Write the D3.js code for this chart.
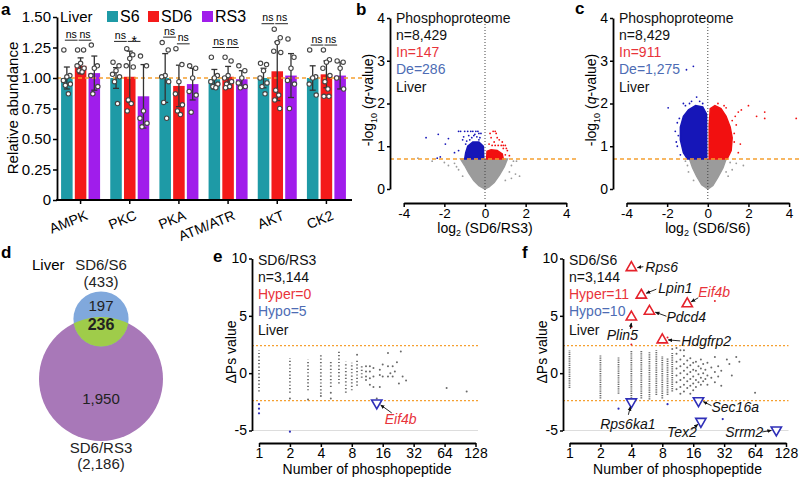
<!DOCTYPE html>
<html><head><meta charset="utf-8">
<script src="https://cdn.jsdelivr.net/npm/d3@7"></script>
<style>body{margin:0;background:#fff} svg{display:block} text{font-family:Arial,"Liberation Sans",sans-serif}</style>
</head><body><svg id="c" width="800" height="478"></svg>
<script>
// ================= DATA =================
// Panel a
const kinases = ["AMPK","PKC","PKA","ATM/ATR","AKT","CK2"];
const groups = ["S6","SD6","RS3"];
const meanS6  = [1.00,1.00,1.00,0.99,1.00,1.00];
const meanSD6 = [1.10,1.01,0.935,1.01,1.055,1.03];
const meanRS3 = [1.04,0.85,0.95,0.99,1.02,1.02];
const sdS6  = [0.09,0.085,0.20,0.08,0.08,0.10];
const sdSD6 = [0.065,0.21,0.17,0.085,0.24,0.11];
const sdRS3 = [0.14,0.26,0.13,0.07,0.18,0.11];
const ptsS6 = [
  [1.23,1.02,1.01,0.98,0.95,0.94,0.87],
  [1.13,1.10,1.06,1.03,1.01,0.97,0.79],
  [1.29,1.23,1.02,1.01,0.97,0.80,0.67],
  [1.17,1.02,1.00,0.97,0.95,0.93,0.92],
  [1.12,1.11,1.06,1.00,0.96,0.93,0.87],
  [1.23,1.01,1.00,0.95,0.86]];
const ptsSD6 = [
  [1.23,1.23,1.12,1.10,1.08,1.06,1.05],
  [1.24,1.19,1.16,1.10,1.09,0.82,0.79,0.73],
  [1.24,1.11,0.97,0.87,0.78,0.73,0.70],
  [1.17,1.14,1.02,1.00,0.97,0.95,0.93,0.92],
  [1.40,1.33,1.29,1.22,1.21,0.90,0.86,0.82,0.75],
  [1.23,1.15,1.13,1.08,1.02,0.97,0.91,0.85,0.85]];
const ptsRS3 = [
  [1.27,1.10,1.08,1.02,0.93,0.87],
  [1.18,1.10,0.73,0.67,0.63,0.60],
  [1.10,1.08,1.00,0.89,0.86,0.72],
  [1.10,1.06,1.00,0.96,0.93,0.92],
  [1.32,1.17,1.08,0.98,0.95,0.75],
  [1.14,1.13,1.08,1.00,0.91]];
const sigS6vsSD6  = ["ns","ns","ns","ns","ns","ns"];
const sigSD6vsRS3 = ["ns","*","ns","ns","ns","ns"];
const sigLevel1 = [1.31,1.30,1.335,1.25,1.445,1.27];
const sigLevel2 = [1.31,1.30,1.28,1.25,1.445,1.27];
const yTicksA = [0,0.25,0.5,0.75,1,1.25,1.5];

// Panels b & c (volcano); dense regions as outlines + scattered points  [log2 FC, -log10 q]
const qThreshold = 0.699;
const bGreyArea = [[0,0],[-0.3,0.08],[-0.55,0.2],[-0.8,0.38],[-1.0,0.55],[-1.2,0.7],[1.1,0.7],[0.95,0.52],[0.7,0.32],[0.45,0.15],[0.2,0.05]];
const bBlueArea = [[-0.06,0.7],[-1.0,0.7],[-0.95,0.85],[-0.85,1.0],[-0.6,1.1],[-0.3,1.1],[-0.08,1.0]];
const bRedArea  = [[0.08,0.7],[0.9,0.7],[0.85,0.82],[0.6,0.9],[0.3,0.92],[0.1,0.88]];
const bGreyPts = [[-1.5,0.6],[-1.8,0.55],[-2.0,0.62],[-1.3,0.45],[1.3,0.55],[1.5,0.35],[1.7,0.3],[1.2,0.4],[1.55,0.65],[-3.3,0.72],[-2.6,0.65],[-1.1,0.3],[1.0,0.2],[1.4,0.65],[-1.4,0.52],[1.3,0.25]];
const bBluePts = [[-2.9,1.2],[-2.3,1.28],[-1.95,1.05],[-1.8,1.18],[-2.35,0.72],[-2.2,0.75],[-1.3,1.35],[-1.2,1.35],[-1.0,1.35],[-0.85,1.35],[-0.7,1.35],[-0.6,1.35],[-0.45,1.35],[-0.35,1.35],[-0.3,1.3],[-0.5,1.28],[-0.8,1.25],[-0.25,1.2],[-1.1,1.15],[-0.95,1.05],[-1.3,0.9],[-0.55,1.25],[-0.65,1.2],[-0.4,1.22],[-0.3,1.15],[-0.75,1.15],[-1.5,0.85],[-1.05,1.22],[-0.2,1.3],[-0.9,1.12]];
const bRedPts = [[0.4,1.35],[0.5,1.35],[0.55,1.3],[0.3,1.2],[0.6,1.2],[0.7,1.15],[0.45,1.1],[0.2,1.05],[0.35,1.02],[0.5,1.02],[0.65,1.02],[0.8,1.02],[0.9,1.02],[1.0,1.02],[0.9,0.95],[1.1,0.9],[1.0,0.8],[1.2,0.78],[0.85,1.1],[1.05,0.95],[0.25,1.3]];
const cGreyArea = [[0,0],[-0.3,0.1],[-0.55,0.3],[-0.75,0.5],[-0.9,0.7],[0.9,0.7],[0.75,0.5],[0.5,0.28],[0.25,0.08]];
const cBlueArea = [[-0.05,0.7],[-1.0,0.7],[-1.2,0.85],[-1.35,1.15],[-1.35,1.45],[-1.2,1.7],[-0.95,1.85],[-0.6,1.95],[-0.25,1.92],[-0.06,1.75]];
const cRedArea  = [[0.07,0.7],[0.95,0.7],[1.15,0.9],[1.2,1.2],[1.1,1.45],[0.9,1.7],[0.65,1.88],[0.35,1.95],[0.12,1.88],[0.07,1.5]];
const cGreyPts = [[1.4,0.6],[1.75,0.55],[1.2,0.45],[-1.0,0.55],[-1.1,0.65],[1.0,0.3],[-0.7,0.2],[1.1,0.62],[-0.95,0.4],[0.9,0.4]];
const cBluePts = [[-1.95,1.9],[-1.4,1.65],[-1.5,1.55],[-1.55,1.1],[-1.5,1.0],[-1.35,0.8],[-1.1,1.95],[-0.8,2.05],[-0.55,2.15],[-0.4,2.05],[-0.25,2.0],[-1.05,2.79],[-0.71,2.87],[-1.6,1.35],[-1.2,2.0],[-1.45,1.25],[-0.9,2.0]];
const cRedPts = [[1.5,1.8],[1.65,1.85],[2.0,1.95],[2.4,1.7],[2.8,1.8],[2.8,1.65],[4.35,1.65],[1.4,1.5],[1.3,1.3],[1.6,1.05],[1.5,0.85],[1.3,1.1],[0.5,2.0],[0.8,1.95],[0.9,1.9],[1.2,1.6],[1.35,1.7]];

// Panel d (Venn)
const vennSets = ["SD6/S6","SD6/RS3"];
const vennTotals = [433, 2186];
const vennOnly = [197, 1950];
const vennShared = 236;

// Panels e & f  [number of phosphopeptides, ΔPs]
const psThreshold = 2.4;
const eColumns = [[1,-1.6,2.0],[2,-1.7,1.3],[3,-1.5,1.2],[4,-1.8,1.6],[5,-1.2,1.1],[6,-0.9,2.0],[7,-1.7,1.0],[8,-1.5,0.9],[9,-1.1,1.1],[10,-0.4,0.6]];
const eGreyPts = [[2,-2.2],[3,-2.3],[4,-2.0],[5,-2.2],[5,-1.7],[9,1.6],[11,0.6],[11,0.15],[11,-0.3],[11,-0.6],[12,0.6],[12,0.15],[12,-0.45],[12,-1.0],[13,0.45],[13,-0.3],[13,-1.2],[14,-2.2],[15,0.3],[15,-0.15],[15,-1.2],[16,0.75],[16,-0.3],[18,0.6],[18,-0.3],[18,1.75],[19,0.0],[20,0.6],[20,-0.3],[21,0.15],[22,0.95],[23,-0.9],[24,1.9],[25,-0.3],[27,-0.65],[67,-1.3],[105,-1.6]];
const eBluePts = [[1,-2.7],[1,-3.1],[1,-3.5],[2,-5.1]];
const eRedPts = [];
const eHits = [{gene:"Eif4b", n:14, v:-2.6, dir:"down"}];
const fColumns = [[1,-1.3,2.0],[2,-2.2,1.6],[3,-1.8,1.4],[4,-2.2,2.0],[5,-2.2,2.0],[6,-2.3,1.9],[7,-1.9,2.0],[8,-2.2,1.5],[9,-1.9,1.3],[10,-1.6,1.8]];
const fGreyPts = [[10,2.1],[11,2.2],[13,2.0],[11,1.7],[11,1.0],[11,0.4],[11,-0.2],[11,-0.8],[11,-1.4],[12,2.0],[12,1.2],[12,0.6],[12,0.0],[12,-0.6],[12,-1.2],[12,-1.8],[13,1.5],[13,0.8],[13,0.2],[13,-0.4],[13,-1.0],[13,-1.6],[14,1.1],[14,0.5],[14,-0.1],[14,-0.7],[14,-1.3],[15,1.3],[15,0.7],[15,0.1],[15,-0.5],[15,-1.1],[15,-1.8],[16,0.9],[16,0.3],[16,-0.3],[16,-0.9],[16,-1.5],[17,1.0],[17,0.2],[17,-0.6],[17,-1.2],[18,0.6],[18,-0.1],[18,-0.8],[19,1.2],[19,0.4],[19,-0.4],[19,-1.0],[20,0.8],[20,0.0],[20,-0.7],[21,0.3],[21,-0.5],[22,0.9],[22,-0.2],[22,-1.0],[24,0.5],[24,-0.4],[26,1.4],[26,0.1],[26,-0.8],[28,0.6],[28,-0.3],[30,0.2],[30,-1.1],[34,1.2],[36,0.8],[38,-0.2],[42,1.4],[45,1.0],[64,-1.7]];
const fRedPts = [[4,4.0],[4,3.0],[4,2.5],[9,3.1],[26,6.3]];
const fBluePts = [[3,-3.1],[9,-2.7],[31,-4.0]];
const fHits = [
  {gene:"Rps6", n:4, v:9.2, dir:"up"},
  {gene:"Lpin1", n:5, v:6.8, dir:"up"},
  {gene:"Eif4b", n:14, v:6.05, dir:"up"},
  {gene:"Pdcd4", n:6, v:5.4, dir:"up"},
  {gene:"Plin5", n:4, v:4.9, dir:"up"},
  {gene:"Hdgfrp2", n:8, v:2.9, dir:"up"},
  {gene:"Rps6ka1", n:4, v:-2.5, dir:"down"},
  {gene:"Sec16a", n:18, v:-2.4, dir:"down"},
  {gene:"Tex2", n:19, v:-4.2, dir:"down"},
  {gene:"Srrm2", n:103, v:-4.95, dir:"down"}];
const xTicksPs = [1,2,4,8,16,32,64,128];

// ================= LAYOUT / STYLE =================
const svg = d3.select("#c");
const C = {S6:"#1E9AA6", SD6:"#F41A1A", RS3:"#A01DEB", orange:"#F5A030",
  vRed:"#F21010", vBlue:"#1616B8", vGrey:"#9B9B9B", txtRed:"#E8333A", txtBlue:"#4D6CB4",
  triRed:"#E5222B", triBlue:"#2F2FB8"};
const plain = d => String(d);
function styleAxis(g, fs){
  g.select(".domain").attr("stroke","#000").attr("stroke-width",1.8);
  g.selectAll(".tick line").attr("stroke","#000").attr("stroke-width",1.5);
  g.selectAll(".tick text").attr("font-size",fs).attr("fill","#000")
    .attr("font-family","Arial, 'Liberation Sans', sans-serif");
}
svg.append("defs").append("marker").attr("id","arr").attr("viewBox","0 0 8 8")
  .attr("refX",7).attr("refY",4).attr("markerWidth",5).attr("markerHeight",5).attr("orient","auto")
  .append("path").attr("d","M0,0.5 L8,4 L0,7.5 z").attr("fill","#111");

function panelLabel(t,x,y){ svg.append("text").attr("x",x).attr("y",y).attr("font-size",17).attr("font-weight","bold").text(t); }

// ================= PANEL a =================
(function(){
  const g = svg.append("g");
  const x = d3.scaleBand().domain(kinases).range([56,351]);
  const xi = d3.scaleBand().domain(groups).range([-19.5,19.5]).paddingInner(0.16);
  const y = d3.scaleLinear().domain([0,1.5]).range([200,17]);
  const means = {S6:meanS6, SD6:meanSD6, RS3:meanRS3};
  const sds = {S6:sdS6, SD6:sdSD6, RS3:sdRS3};
  const pts = {S6:ptsS6, SD6:ptsSD6, RS3:ptsRS3};
  const cx = (k,s)=> x(k)+x.bandwidth()/2 + xi(s) + xi.bandwidth()/2;

  kinases.forEach((k,i)=>{
    groups.forEach(s=>{
      g.append("rect").attr("x",cx(k,s)-xi.bandwidth()/2).attr("width",xi.bandwidth())
        .attr("y",y(means[s][i])).attr("height",y(0)-y(means[s][i])).attr("fill",C[s]);
    });
  });
  g.append("line").attr("x1",57).attr("x2",366).attr("y1",y(1)).attr("y2",y(1))
    .attr("stroke",C.orange).attr("stroke-width",1.5).attr("stroke-dasharray","4,3");
  const jit = [-3,3,0,-3.5,3.5,-1.5,1.5,-2.5,2.5];
  kinases.forEach((k,i)=>{
    groups.forEach(s=>{
      const c = cx(k,s), m = means[s][i], sd = sds[s][i];
      g.append("line").attr("x1",c).attr("x2",c).attr("y1",y(m-sd)).attr("y2",y(m+sd)).attr("stroke","#333").attr("stroke-width",1.3);
      [m-sd,m+sd].forEach(v=> g.append("line").attr("x1",c-3).attr("x2",c+3).attr("y1",y(v)).attr("y2",y(v)).attr("stroke","#333").attr("stroke-width",1.3));
      pts[s][i].forEach((v,j)=> g.append("circle").attr("cx",c+jit[j%jit.length]).attr("cy",y(v)).attr("r",2.2)
        .attr("fill","#fff").attr("stroke","#444").attr("stroke-width",1.1));
    });
    // significance
    [[ "S6","SD6",sigS6vsSD6[i],sigLevel1[i]],["SD6","RS3",sigSD6vsRS3[i],sigLevel2[i]]].forEach(([a,b,lab,lv])=>{
      const x1 = cx(k,a)-2, x2 = cx(k,b)-3, yy = y(lv);
      g.append("line").attr("x1",x1).attr("x2",x2).attr("y1",yy).attr("y2",yy).attr("stroke","#222").attr("stroke-width",1);
      g.append("text").attr("x",(x1+x2)/2).attr("y", lab==="*"? yy+5 : yy-2.5).attr("text-anchor","middle")
        .attr("font-size", lab==="*"?14:10.5).text(lab);
    });
  });
  const ya = g.append("g").attr("transform","translate(57,0)")
    .call(d3.axisLeft(y).tickValues(yTicksA).tickSize(4).tickPadding(2).tickSizeOuter(0).tickFormat(d=> d===0?"0":d3.format(".2f")(d)));
  styleAxis(ya,15);
  g.append("line").attr("x1",56).attr("x2",352).attr("y1",200).attr("y2",200).attr("stroke","#000").attr("stroke-width",1.8);
  const xa = g.append("g").attr("transform","translate(0,200)")
    .call(d3.axisBottom(x).tickSize(4).tickSizeOuter(0).tickFormat(""));
  xa.select(".domain").remove();
  styleAxis(xa,14);
  kinases.forEach(k=>{
    const c = x(k)+x.bandwidth()/2;
    g.append("text").attr("text-anchor","end").attr("font-size",14)
      .attr("transform",`translate(${c+8},${219}) rotate(-22)`).text(k);
  });
  g.append("text").attr("transform","translate(18,108) rotate(-90)").attr("text-anchor","middle").attr("font-size",15).text("Relative abundance");
  // legend
  g.append("text").attr("x",60).attr("y",22).attr("font-size",15).text("Liver");
  const lx = {S6:107, SD6:148, RS3:202};
  groups.forEach(s=>{
    g.append("rect").attr("x",lx[s]).attr("y",11).attr("width",11).attr("height",11).attr("fill",C[s]);
    g.append("text").attr("x",lx[s]+13).attr("y",22).attr("font-size",16).text(s);
  });
})();
panelLabel("a",1,15);

// ================= PANELS b, c =================
function volcano(o){
  const g = svg.append("g");
  const x = d3.scaleLinear().domain([-4,4]).range([o.x0, o.x0+162.6]);
  const y = d3.scaleLinear().domain([0,4]).range([189,18]);
  const poly = d3.line().x(d=>x(d[0])).y(d=>y(d[1])).curve(d3.curveLinearClosed);
  g.append("path").attr("d",poly(o.greyArea)).attr("fill",C.vGrey).attr("stroke",C.vGrey).attr("stroke-width",1.5);
  o.greyPts.forEach(d=> g.append("circle").attr("cx",x(d[0])).attr("cy",y(d[1])).attr("r",0.9).attr("fill",C.vGrey));
  g.append("path").attr("d",poly(o.blueArea)).attr("fill",C.vBlue).attr("stroke",C.vBlue).attr("stroke-width",1.5);
  g.append("path").attr("d",poly(o.redArea)).attr("fill",C.vRed).attr("stroke",C.vRed).attr("stroke-width",1.5);
  o.bluePts.forEach(d=> g.append("circle").attr("cx",x(d[0])).attr("cy",y(d[1])).attr("r",0.9).attr("fill",C.vBlue));
  o.redPts.forEach(d=> g.append("circle").attr("cx",x(d[0])).attr("cy",y(d[1])).attr("r",0.9).attr("fill",C.vRed));
  g.append("line").attr("x1",o.yAxisX).attr("x2",o.lineEnd).attr("y1",y(qThreshold)).attr("y2",y(qThreshold))
    .attr("stroke",C.orange).attr("stroke-width",1.5).attr("stroke-dasharray","4,3");
  g.append("line").attr("x1",x(0)).attr("x2",x(0)).attr("y1",18).attr("y2",200)
    .attr("stroke","#444").attr("stroke-width",1).attr("stroke-dasharray","1,2");
  const ya = g.append("g").attr("transform",`translate(${o.yAxisX},0)`)
    .call(d3.axisLeft(y).tickValues([0,1,2,3,4]).tickSize(3).tickPadding(2).tickSizeOuter(0).tickFormat(plain));
  styleAxis(ya,14);
  const xa = g.append("g").attr("transform","translate(0,203)")
    .call(d3.axisBottom(x).tickValues([-4,-2,0,2,4]).tickSize(4).tickPadding(1).tickSizeOuter(0).tickFormat(plain));
  styleAxis(xa,13.5);
  const yl = g.append("text").attr("transform",`translate(${o.yAxisX-17},100) rotate(-90)`).attr("text-anchor","middle").attr("font-size",14);
  yl.append("tspan").text("-log");
  yl.append("tspan").attr("font-size",9).attr("dy",4).text("10");
  yl.append("tspan").attr("dy",-4).text(" (");
  yl.append("tspan").attr("font-style","italic").text("q");
  yl.append("tspan").text("-value)");
  const xl = g.append("text").attr("x",x(0)).attr("y",233).attr("text-anchor","middle").attr("font-size",14);
  xl.append("tspan").text("log");
  xl.append("tspan").attr("font-size",9).attr("dy",3).text("2");
  xl.append("tspan").attr("dy",-3).text(" (" + o.ratio + ")");
  const lines = [["Phosphoproteome","#111"],["n=8,429","#111"],["In="+o.inc,C.txtRed],["De="+o.dec,C.txtBlue],["Liver","#111"]];
  const bl = [23,40,57,74,92];
  lines.forEach((l,i)=> g.append("text").attr("x",o.yAxisX+6).attr("y",bl[i]).attr("font-size",14).attr("fill",l[1]).text(l[0]));
}
volcano({x0:403.7, yAxisX:390, lineEnd:577, ratio:"SD6/RS3", inc:"147", dec:"286",
  greyArea:bGreyArea, blueArea:bBlueArea, redArea:bRedArea, greyPts:bGreyPts, bluePts:bBluePts, redPts:bRedPts});
volcano({x0:626.5, yAxisX:613, lineEnd:800, ratio:"SD6/S6", inc:"911", dec:"1,275",
  greyArea:cGreyArea, blueArea:cBlueArea, redArea:cRedArea, greyPts:cGreyPts, bluePts:cBluePts, redPts:cRedPts});
panelLabel("b",356,15);
panelLabel("c",575,14);

// ================= PANEL d =================
(function(){
  const g = svg.append("g");
  const r = d3.scaleSqrt().domain([0,2186]).range([0,62]);
  const c1 = [101,319], c2 = [101,379];
  const r1 = r(vennTotals[0]), r2 = r(vennTotals[1]);
  g.append("circle").attr("cx",c2[0]).attr("cy",c2[1]).attr("r",r2).attr("fill","#A878B8");
  g.append("circle").attr("cx",c1[0]).attr("cy",c1[1]).attr("r",r1).attr("fill","#80A8DC");
  g.append("clipPath").attr("id","vclip").append("circle").attr("cx",c2[0]).attr("cy",c2[1]).attr("r",r2);
  g.append("circle").attr("cx",c1[0]).attr("cy",c1[1]).attr("r",r1).attr("fill","#9FCC4A").attr("clip-path","url(#vclip)");
  const t = (s,x,y,fs,bold)=> g.append("text").attr("x",x).attr("y",y).attr("text-anchor","middle").attr("font-size",fs).attr("font-weight",bold?"bold":"normal").attr("fill","#222").text(s);
  t(vennSets[0],101,270,15); t("("+vennTotals[0]+")",101,287,15);
  t(String(vennOnly[0]),101,311,15); t(String(vennShared),101,330,16,true);
  t(d3.format(",")(vennOnly[1]),101,404,15);
  t(vennSets[1],101,453,15); t("("+d3.format(",")(vennTotals[1])+")",101,469,15);
  g.append("text").attr("x",32).attr("y",270).attr("font-size",15).text("Liver");
})();
panelLabel("d",1,258);

// ================= PANELS e, f =================
function dps(o){
  const g = svg.append("g");
  const x = d3.scaleLog().base(2).domain([1,128]).range([o.x1, o.x1+216.5]);
  const y = d3.scaleLinear().domain([-5,10]).range([430.5,258.5]);
  const xEnd = o.x1+219;
  g.append("line").attr("x1",o.axisX).attr("x2",xEnd).attr("y1",y(-5)).attr("y2",y(-5)).attr("stroke","#ddd").attr("stroke-width",1);
  [psThreshold,-psThreshold].forEach(v=> g.append("line").attr("x1",o.axisX).attr("x2",xEnd).attr("y1",y(v)).attr("y2",y(v))
    .attr("stroke",C.orange).attr("stroke-width",1.3).attr("stroke-dasharray","2,2"));
  o.columns.forEach(c=> g.append("line").attr("x1",x(c[0])).attr("x2",x(c[0])).attr("y1",y(c[1])).attr("y2",y(c[2]))
    .attr("stroke","#6a6a6a").attr("stroke-width",1.8).attr("stroke-dasharray",o.dash));
  o.greyPts.forEach(d=> g.append("circle").attr("cx",x(d[0])).attr("cy",y(d[1])).attr("r",1).attr("fill","#6a6a6a"));
  o.redPts.forEach(d=> g.append("circle").attr("cx",x(d[0])).attr("cy",y(d[1])).attr("r",1).attr("fill",C.triRed));
  o.bluePts.forEach(d=> g.append("circle").attr("cx",x(d[0])).attr("cy",y(d[1])).attr("r",1.1).attr("fill",C.triBlue));
  const tri = d3.symbol(d3.symbolTriangle, 46);
  o.hits.forEach(h=>{
    const px = x(h.n), py = y(h.v), col = h.dir==="up"?C.triRed:C.triBlue;
    g.append("path").attr("d",tri()).attr("transform",`translate(${px},${py}) rotate(${h.dir==="up"?0:180})`)
      .attr("fill","#fff").attr("stroke",col).attr("stroke-width",1.6);
    const L = o.layout[h.gene];
    g.append("line").attr("x1",px+L.a[0]).attr("y1",py+L.a[1]).attr("x2",px+L.a[2]).attr("y2",py+L.a[3])
      .attr("stroke","#111").attr("stroke-width",0.9).attr("marker-end","url(#arr)");
    g.append("text").attr("x",px+L.t[0]).attr("y",py+L.t[1]).attr("text-anchor",L.t[2]).attr("font-size",14)
      .attr("font-style","italic").attr("fill",L.red?C.txtRed:"#111").text(h.gene);
  });
  const ya = g.append("g").attr("transform",`translate(${o.axisX},0)`)
    .call(d3.axisLeft(y).tickValues([-5,0,5,10]).tickSize(3).tickPadding(2).tickSizeOuter(0).tickFormat(plain));
  styleAxis(ya,14);
  const xa = g.append("g").attr("transform","translate(0,443)")
    .call(d3.axisBottom(x).tickValues(xTicksPs).tickSize(4).tickPadding(1).tickSizeOuter(0).tickFormat(plain));
  styleAxis(xa,14);
  g.append("text").attr("transform",`translate(${o.axisX-16},352) rotate(-90)`).attr("text-anchor","middle").attr("font-size",14).text("ΔPs value");
  g.append("text").attr("x",o.x1+108).attr("y",474).attr("text-anchor","middle").attr("font-size",14).text("Number of phosphopeptide");
  const lines = [[o.ratio,"#111"],["n=3,144","#111"],["Hyper="+o.hyper,C.txtRed],["Hypo="+o.hypo,C.txtBlue],["Liver","#111"]];
  const bl = [265,282,299,316,335];
  lines.forEach((l,i)=> g.append("text").attr("x",o.axisX+6).attr("y",bl[i]).attr("font-size",14).attr("fill",l[1]).text(l[0]));
}
dps({x1:259, axisX:252, ratio:"SD6/RS3", hyper:"0", hypo:"5", dash:"1.2,2.2",
  columns:eColumns, greyPts:eGreyPts, redPts:eRedPts, bluePts:eBluePts, hits:eHits,
  layout:{Eif4b:{t:[8,21,"start"], a:[15,10,4,2], red:true}}});
dps({x1:569.5, axisX:563, ratio:"SD6/S6", hyper:"11", hypo:"10", dash:"1.2,1",
  columns:fColumns, greyPts:fGreyPts, redPts:fRedPts, bluePts:fBluePts, hits:fHits,
  layout:{
    Rps6:{t:[14,4,"start"], a:[12,-1,6,0]},
    Lpin1:{t:[17,-2,"start"], a:[15,-6,5,-2]},
    Eif4b:{t:[11,-7,"start"], a:[11,-6,4,-2], red:true},
    Pdcd4:{t:[17,11,"start"], a:[17,5,6,1]},
    Plin5:{t:[-9,23,"middle"], a:[-1,12,0,6]},
    Hdgfrp2:{t:[19,6,"start"], a:[18,1,6,0]},
    Rps6ka1:{t:[-3.5,27,"middle"], a:[-3,13,-1,5]},
    Sec16a:{t:[13,11,"start"], a:[13,5,5,1]},
    Tex2:{t:[-4,16,"end"], a:[-9,8,-3,3]},
    Srrm2:{t:[-13,7,"end"], a:[-14,2,-5,0.5]}
  }});
panelLabel("e",213,262);
panelLabel("f",522,258);
</script></body></html>
